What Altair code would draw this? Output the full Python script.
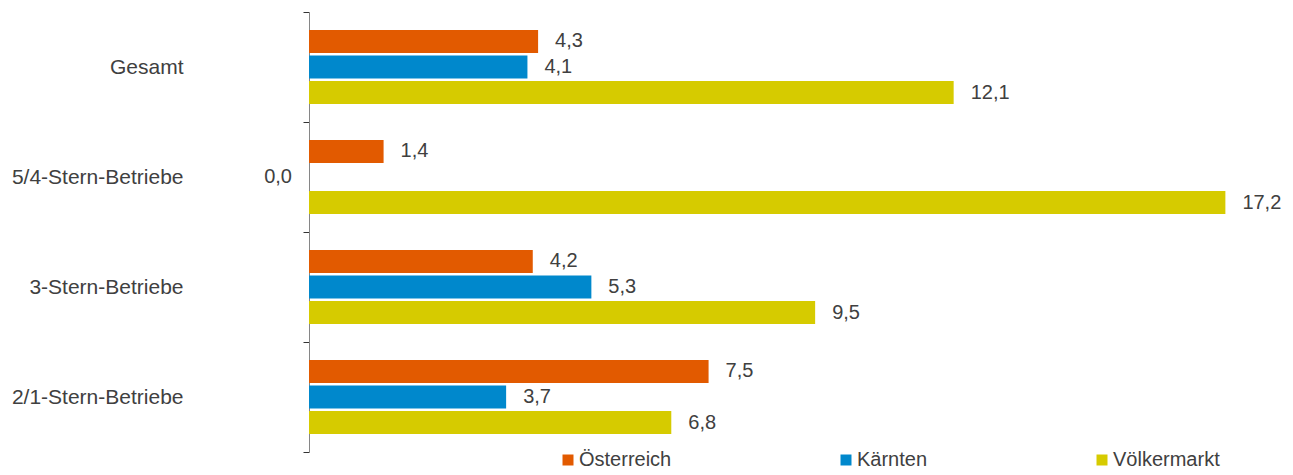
import altair as alt
import pandas as pd

categories = ["Gesamt", "5/4-Stern-Betriebe", "3-Stern-Betriebe", "2/1-Stern-Betriebe"]
series = ["Österreich", "Kärnten", "Völkermarkt"]
oesterreich = [4.3, 1.4, 4.2, 7.5]
kaernten = [4.1, 0.0, 5.3, 3.7]
voelkermarkt = [12.1, 17.2, 9.5, 6.8]
colors = ["#E25A00", "#0088CC", "#D6CB00"]

rows = []
for s, vals in zip(series, [oesterreich, kaernten, voelkermarkt]):
    for c, v in zip(categories, vals):
        rows.append({"Kategorie": c, "Region": s, "Wert": v})
df = pd.DataFrame(rows)

FONT = "Liberation Sans"
TXT = "#404040"

base = alt.Chart(df).transform_calculate(
    label="replace(format(datum.Wert, '.1f'), '.', ',')"
)

y = alt.Y(
    "Kategorie:N",
    sort=categories,
    scale=alt.Scale(paddingInner=0, paddingOuter=0),
    axis=alt.Axis(
        title=None,
        tickBand="extent",
        labelPadding=120,
        tickSize=6,
        labelFontSize=21,
        labelColor=TXT,
        labelFont=FONT,
        domainColor="#868686",
        tickColor="#333333",
        grid=False,
    ),
)
yoff = alt.YOffset(
    "Region:N", sort=series, scale=alt.Scale(paddingInner=0.1, paddingOuter=0.7)
)
x = alt.X("Wert:Q", scale=alt.Scale(domain=[0, 18]), axis=None)

bars = base.mark_bar().encode(
    x=x,
    y=y,
    yOffset=yoff,
    color=alt.Color(
        "Region:N",
        sort=series,
        scale=alt.Scale(domain=series, range=colors),
        legend=alt.Legend(
            title=None,
            orient="none",
            legendX=249,
            legendY=438,
            direction="horizontal",
            symbolType="square",
            symbolSize=121,
            symbolStrokeWidth=0,
            labelFontSize=20,
            labelFont=FONT,
            labelColor=TXT,
            labelOffset=1,
            columnPadding=164,
            padding=0,
        ),
    ),
)

text_pos = (
    base.transform_filter("datum.Wert > 0")
    .mark_text(align="left", dx=17, baseline="middle", fontSize=20, font=FONT, color=TXT)
    .encode(x=x, y=y, yOffset=yoff, text="label:N")
)
text_zero = (
    base.transform_filter("datum.Wert == 0")
    .mark_text(align="right", dx=-17, baseline="middle", fontSize=20, font=FONT, color=TXT)
    .encode(x=x, y=y, yOffset=yoff, text="label:N")
)

chart = (
    alt.layer(bars, text_pos, text_zero)
    .properties(
        width=959,
        height=440,
        autosize=alt.AutoSizeParams(type="none"),
        padding={"left": 301, "top": 4, "right": 17, "bottom": 19},
    )
    .configure(font=FONT)
    .configure_view(stroke=None, strokeWidth=0)
)

chart.save("out.html", embed_options={"renderer": "svg", "actions": False})
